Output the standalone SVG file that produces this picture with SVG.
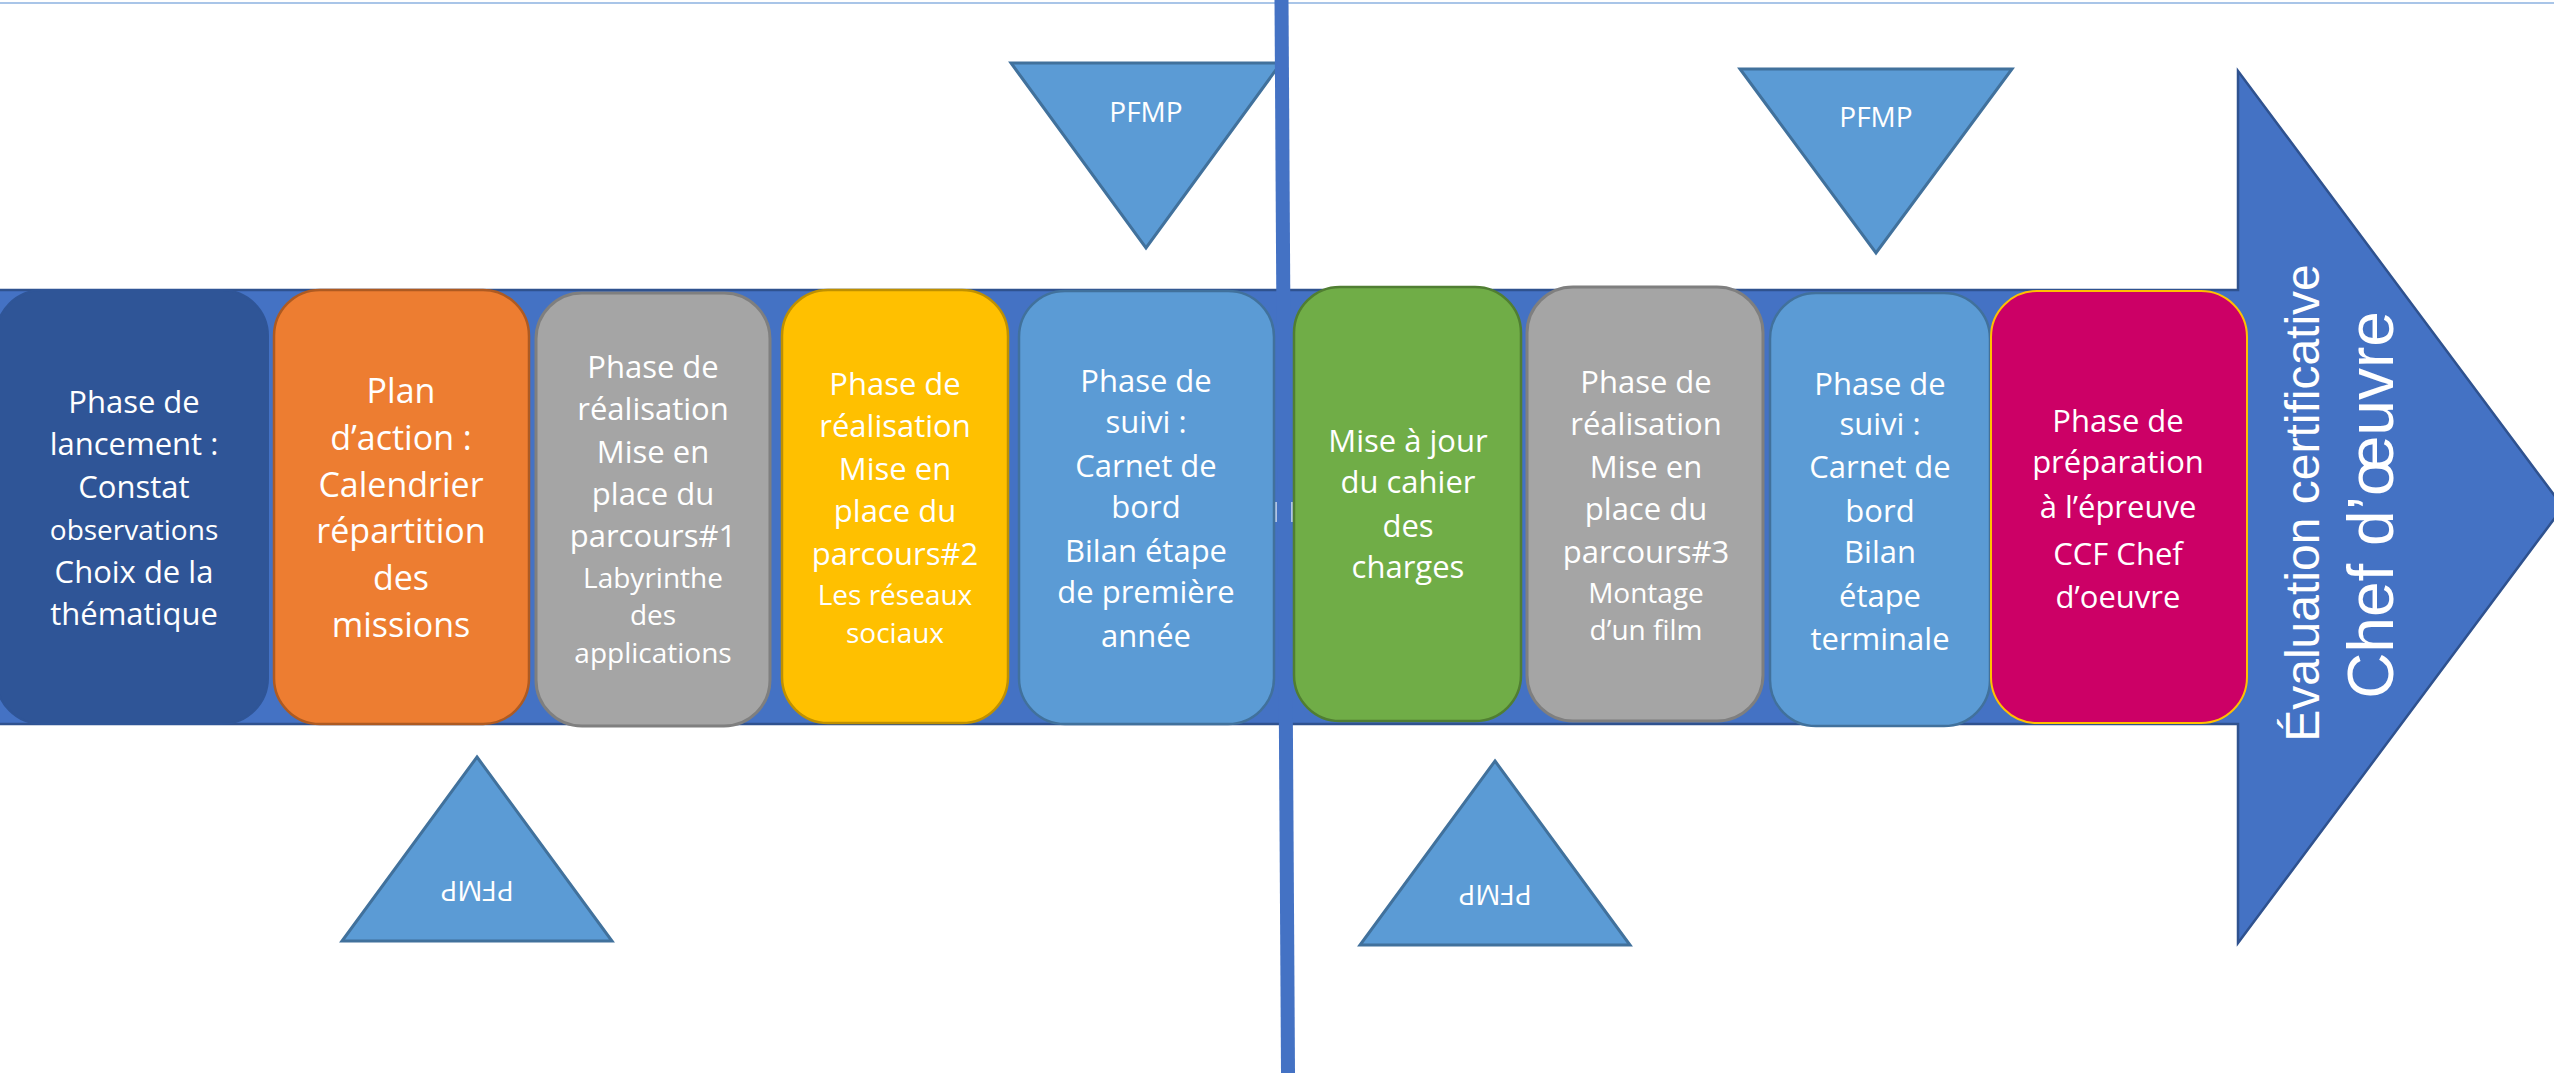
<svg xmlns="http://www.w3.org/2000/svg" width="2554" height="1073" viewBox="0 0 2554 1073">
<style>
.t{font-family:"Open Sans","Liberation Sans",sans-serif;fill:#fff;text-anchor:middle;font-size:31px}
.s{font-size:28px}
.b{font-size:34px}
.p{font-family:"Open Sans","Liberation Sans",sans-serif;fill:#fff;text-anchor:middle;font-size:28px}
.v{font-family:"Liberation Sans",Arial,sans-serif;fill:#fff;text-anchor:middle}
.tri{fill:#5B9BD5;stroke:#41719C;stroke-width:3;stroke-linejoin:miter}
</style>
<rect width="2554" height="1073" fill="#fff"/>
<line x1="0" y1="3" x2="2554" y2="3" stroke="#A9C5E8" stroke-width="2"/>
<g id="pfmp-top-1"><polygon class="tri" points="1011,63 1281,63 1146,248"/><text class="p" x="1146" y="122">PFMP</text></g>
<g id="pfmp-top-2"><polygon class="tri" points="1740,69 2012,69 1876,253"/><text class="p" x="1876" y="127">PFMP</text></g>
<g id="pfmp-bottom-1"><polygon class="tri" points="477,757 612,941 342,941"/><text class="p" x="477" y="901" transform="rotate(180 477 891)">PFMP</text></g>
<g id="pfmp-bottom-2"><polygon class="tri" points="1495,761 1630,945 1360,945"/><text class="p" x="1495" y="905" transform="rotate(180 1495 895)">PFMP</text></g>
<g id="arrow"><path d="M-2,290 L2238,290 L2238,71 L2563,507 L2238,943 L2238,724 L-2,724 Z" fill="#4472C4" stroke="#2F528F" stroke-width="2.5"/>
<text class="v" font-size="48" transform="translate(2319 503) rotate(-90)">Évaluation certificative</text>
<text class="v" font-size="64" transform="translate(2393 505) rotate(-90)">Chef d’œuvre</text></g>
<g id="connectors"><polygon points="1274.5,0 1288.5,0 1295,1073 1281,1073" fill="#4472C4"/>
<line x1="1276" y1="502" x2="1276" y2="522" stroke="#D6E0F0" stroke-width="1.5"/><line x1="1292" y1="502" x2="1292" y2="522" stroke="#D6E0F0" stroke-width="1.5"/></g>
<g id="n1"><rect x="-4" y="290" width="272" height="434" rx="46" fill="#2F5597" stroke="#2F5597" stroke-width="2"/>
<text class="t"><tspan x="134" y="413">Phase de</tspan><tspan x="134" y="455">lancement :</tspan><tspan x="134" y="498">Constat</tspan><tspan x="134" y="540" class="s">observations</tspan><tspan x="134" y="583">Choix de la</tspan><tspan x="134" y="625">thématique</tspan></text></g>
<g id="n2"><rect x="274" y="290" width="255" height="434" rx="46" fill="#ED7D31" stroke="#AE5A21" stroke-width="2.5"/>
<text class="t b"><tspan x="401" y="403">Plan</tspan><tspan x="401" y="450">d’action :</tspan><tspan x="401" y="497">Calendrier</tspan><tspan x="401" y="543">répartition</tspan><tspan x="401" y="590">des</tspan><tspan x="401" y="637">missions</tspan></text></g>
<g id="n3"><rect x="536" y="293" width="234" height="433" rx="46" fill="#A5A5A5" stroke="#7F7F7F" stroke-width="3"/>
<text class="t"><tspan x="653" y="378">Phase de</tspan><tspan x="653" y="420">réalisation</tspan><tspan x="653" y="463">Mise en</tspan><tspan x="653" y="505">place du</tspan><tspan x="653" y="547">parcours#1</tspan><tspan x="653" y="588" class="s">Labyrinthe</tspan><tspan x="653" y="625" class="s">des</tspan><tspan x="653" y="663" class="s">applications</tspan></text></g>
<g id="n4"><rect x="782" y="290" width="226" height="433" rx="46" fill="#FFC000" stroke="#BF9000" stroke-width="2.5"/>
<text class="t"><tspan x="895" y="395">Phase de</tspan><tspan x="895" y="437">réalisation</tspan><tspan x="895" y="480">Mise en</tspan><tspan x="895" y="522">place du</tspan><tspan x="895" y="565">parcours#2</tspan><tspan x="895" y="605" class="s">Les réseaux</tspan><tspan x="895" y="643" class="s">sociaux</tspan></text></g>
<g id="n5"><rect x="1019" y="291" width="255" height="433" rx="46" fill="#5B9BD5" stroke="#41719C" stroke-width="2.5"/>
<text class="t"><tspan x="1146" y="392">Phase de</tspan><tspan x="1146" y="433">suivi :</tspan><tspan x="1146" y="477">Carnet de</tspan><tspan x="1146" y="518">bord</tspan><tspan x="1146" y="562">Bilan étape</tspan><tspan x="1146" y="603">de première</tspan><tspan x="1146" y="647">année</tspan></text></g>
<g id="n6"><rect x="1294" y="287" width="227" height="434" rx="46" fill="#70AD47" stroke="#507E32" stroke-width="2.5"/>
<text class="t"><tspan x="1408" y="452">Mise à jour</tspan><tspan x="1408" y="493">du cahier</tspan><tspan x="1408" y="537">des</tspan><tspan x="1408" y="578">charges</tspan></text></g>
<g id="n7"><rect x="1527" y="287" width="236" height="434" rx="46" fill="#A5A5A5" stroke="#7F7F7F" stroke-width="3"/>
<text class="t"><tspan x="1646" y="393">Phase de</tspan><tspan x="1646" y="435">réalisation</tspan><tspan x="1646" y="478">Mise en</tspan><tspan x="1646" y="520">place du</tspan><tspan x="1646" y="563">parcours#3</tspan><tspan x="1646" y="603" class="s">Montage</tspan><tspan x="1646" y="640" class="s">d’un film</tspan></text></g>
<g id="n8"><rect x="1770" y="293" width="220" height="433" rx="46" fill="#5B9BD5" stroke="#41719C" stroke-width="2.5"/>
<text class="t"><tspan x="1880" y="395">Phase de</tspan><tspan x="1880" y="435">suivi :</tspan><tspan x="1880" y="478">Carnet de</tspan><tspan x="1880" y="522">bord</tspan><tspan x="1880" y="563">Bilan</tspan><tspan x="1880" y="607">étape</tspan><tspan x="1880" y="650">terminale</tspan></text></g>
<g id="n9"><rect x="1991" y="291" width="256" height="432" rx="46" fill="#CC0066" stroke="#FFC000" stroke-width="2"/>
<text class="t"><tspan x="2118" y="432">Phase de</tspan><tspan x="2118" y="473">préparation</tspan><tspan x="2118" y="518">à l’épreuve</tspan><tspan x="2118" y="565">CCF Chef</tspan><tspan x="2118" y="608">d’oeuvre</tspan></text></g>
</svg>
